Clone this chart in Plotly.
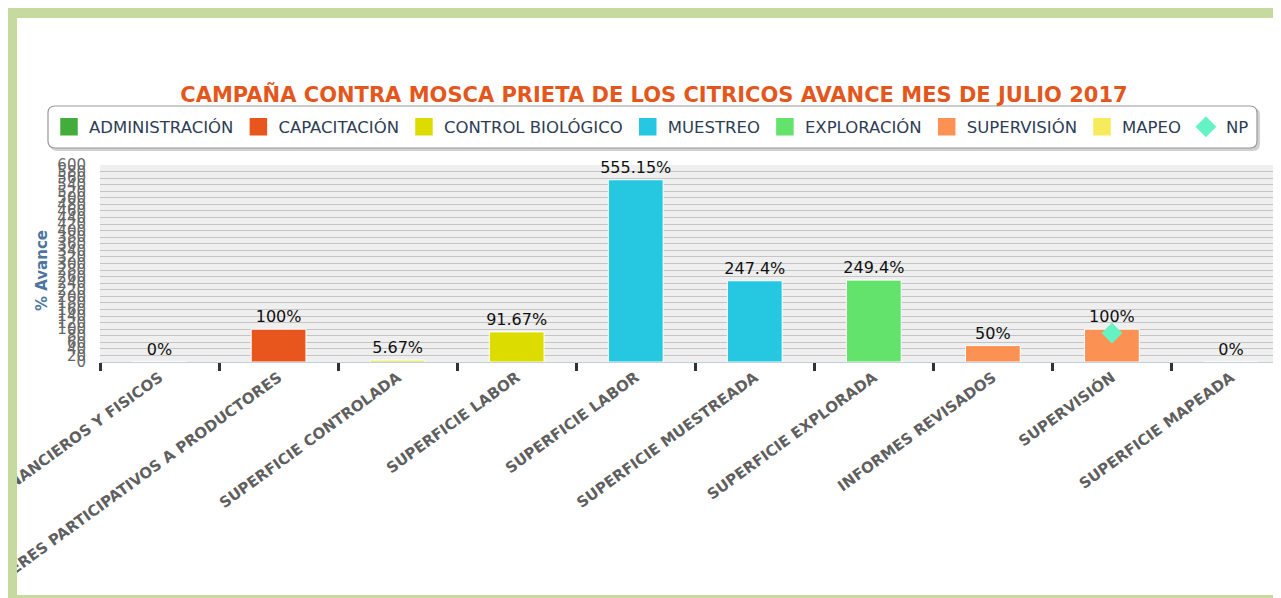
import plotly.graph_objects as go

# ---------------- data ----------------
categories = [
    "INFORMES FINANCIEROS Y FISICOS",
    "TALLERES PARTICIPATIVOS A PRODUCTORES",
    "SUPERFICIE CONTROLADA",
    "SUPERFICIE LABOR",
    "SUPERFICIE LABOR\u200b",
    "SUPERFICIE MUESTREADA",
    "SUPERFICIE EXPLORADA",
    "INFORMES REVISADOS",
    "SUPERVISIÓN",
    "SUPERFICIE MAPEADA",
]
series_names = ["ADMINISTRACIÓN", "CAPACITACIÓN", "CONTROL BIOLÓGICO", "MUESTREO",
                "EXPLORACIÓN", "SUPERVISIÓN", "MAPEO"]
series_colors = ["#43ad3b", "#e9561d", "#dcdc00", "#26c7e1", "#63e26c", "#fb9254", "#f7eb5c"]
# category indices and values for each series
series_cats = [[0], [1], [2, 3], [4, 5], [6], [7, 8], [9]]
series_vals = [[0], [100], [5.67, 91.67], [555.15, 247.4], [249.4], [50, 100], [0]]
np_cats = [8]
np_vals = [88]
np_color = "#66f3c3"
np_name = "NP"

title_text = "CAMPAÑA CONTRA MOSCA PRIETA DE LOS CITRICOS AVANCE MES DE JULIO 2017"
y_title = "% Avance"

# ---------------- layout geometry ----------------
OFF = 8                      # page body margin of the html page
W, H = 1281 - OFF, 598 - OFF
# plot area edges in reference-screen pixels
RL, RR, RT, RB = 100, 1281, 165, 362
PL, PR, PT, PB = RL - OFF, RR - OFF, RT - OFF, RB - OFF
pw, ph = PR - PL, PB - PT


def px(x):
    """reference screen x -> paper x"""
    return (x - OFF - PL) / pw


def py(y):
    """reference screen y -> paper y"""
    return (PB - (y - OFF)) / ph


fig = go.Figure()

for name, color, cats, vals in zip(series_names, series_colors, series_cats, series_vals):
    fig.add_trace(go.Bar(
        x=[categories[i] for i in cats], y=vals, name=name,
        marker=dict(color=color, line=dict(color="white", width=1)),
        width=0.46, texttemplate="%{y}%", textposition="outside",
        constraintext="none",
        textfont=dict(family="DejaVu Sans", size=16, color="#111"),
        cliponaxis=False, showlegend=False, hoverinfo="skip",
    ))
    # legend proxy
    fig.add_trace(go.Scatter(
        x=[None], y=[None], mode="markers", name=name,
        marker=dict(symbol="square", size=16, color=color, line=dict(color=color, width=1.5)),
        showlegend=True,
    ))

fig.add_trace(go.Scatter(
    x=[categories[i] for i in np_cats], y=np_vals, mode="markers", name=np_name,
    marker=dict(symbol="diamond", size=16, color=np_color), cliponaxis=False,
))

GREEN = "#c6d99f"
shapes = []


def rrect(x0, y0, x1, y1, r):
    rx, ry = r / pw, r / ph
    X0, X1, Y0, Y1 = px(x0), px(x1), py(y0), py(y1)
    return (f"M{X0+rx},{Y0} L{X1-rx},{Y0} Q{X1},{Y0} {X1},{Y0-ry} "
            f"L{X1},{Y1+ry} Q{X1},{Y1} {X1-rx},{Y1} L{X0+rx},{Y1} "
            f"Q{X0},{Y1} {X0},{Y1+ry} L{X0},{Y0-ry} Q{X0},{Y0} {X0+rx},{Y0} Z")


shapes.append(dict(type="path", xref="paper", yref="paper", path=rrect(50, 108, 1260, 151, 7),
                   fillcolor="rgba(0,0,0,0.18)", line=dict(width=0), layer="above"))
shapes.append(dict(type="path", xref="paper", yref="paper", path=rrect(48, 106, 1257, 148, 7),
                   fillcolor="white", line=dict(color="#999999", width=1.2), layer="above"))
# green frame
frame = (f"M{px(1300)},{py(6)} L{px(12)},{py(6)} Q{px(6)},{py(6)} {px(6)},{py(12)} "
         f"L{px(6)},{py(610)} L{px(1300)},{py(610)} L{px(1300)},{py(595)} "
         f"L{px(17)},{py(595)} L{px(17)},{py(18)} L{px(1300)},{py(18)} Z")
shapes.append(dict(type="path", xref="paper", yref="paper", path=frame,
                   fillcolor=GREEN, line=dict(width=0), layer="above"))

fig.update_layout(
    width=W, height=H,
    margin=dict(l=PL, r=W - PR, t=PT, b=H - PB, autoexpand=False),
    paper_bgcolor="white", plot_bgcolor="#efefef",
    barmode="overlay",
    showlegend=True,
    title=dict(text=title_text, x=px(654), xref="paper", xanchor="center",
               y=1 - (95 - OFF) / H, yref="container", yanchor="middle",
               font=dict(family="DejaVu Sans", size=21, color="#e4571c", weight="bold")),
    legend=dict(orientation="h", x=px(49), xanchor="left", y=py(127), yanchor="middle",
                bgcolor="rgba(0,0,0,0)", borderwidth=0,
                font=dict(family="DejaVu Sans", size=16.5, color="#2e3d55"),
                traceorder="normal"),
    xaxis=dict(type="category", categoryorder="array", categoryarray=categories,
               range=[-0.5, -0.5 + pw / 119.05],
               tickson="boundaries", ticks="outside", ticklen=8, tickwidth=3, tickcolor="#333",
               showline=True, linecolor="#c0d0e0", linewidth=1, showgrid=False,
               tickangle=-36, automargin=False,
               tickfont=dict(family="DejaVu Sans", size=15, color="#5f5f5f", weight="bold")),
    yaxis=dict(range=[0, 600], tick0=0, dtick=20, showgrid=True, gridcolor="#c4c4c4",
               gridwidth=1.2, zeroline=False, showline=False, automargin=False,
               ticklabelstandoff=13,
               tickfont=dict(family="DejaVu Sans", size=15, color="#666")),
    shapes=shapes,
    annotations=[dict(text=y_title, textangle=-90, x=px(42), y=py(271), xref="paper", yref="paper",
                      xanchor="center", yanchor="middle", showarrow=False,
                      font=dict(family="DejaVu Sans", size=15, color="#4d759e", weight="bold"))],
)

fig.write_html("out.html")
